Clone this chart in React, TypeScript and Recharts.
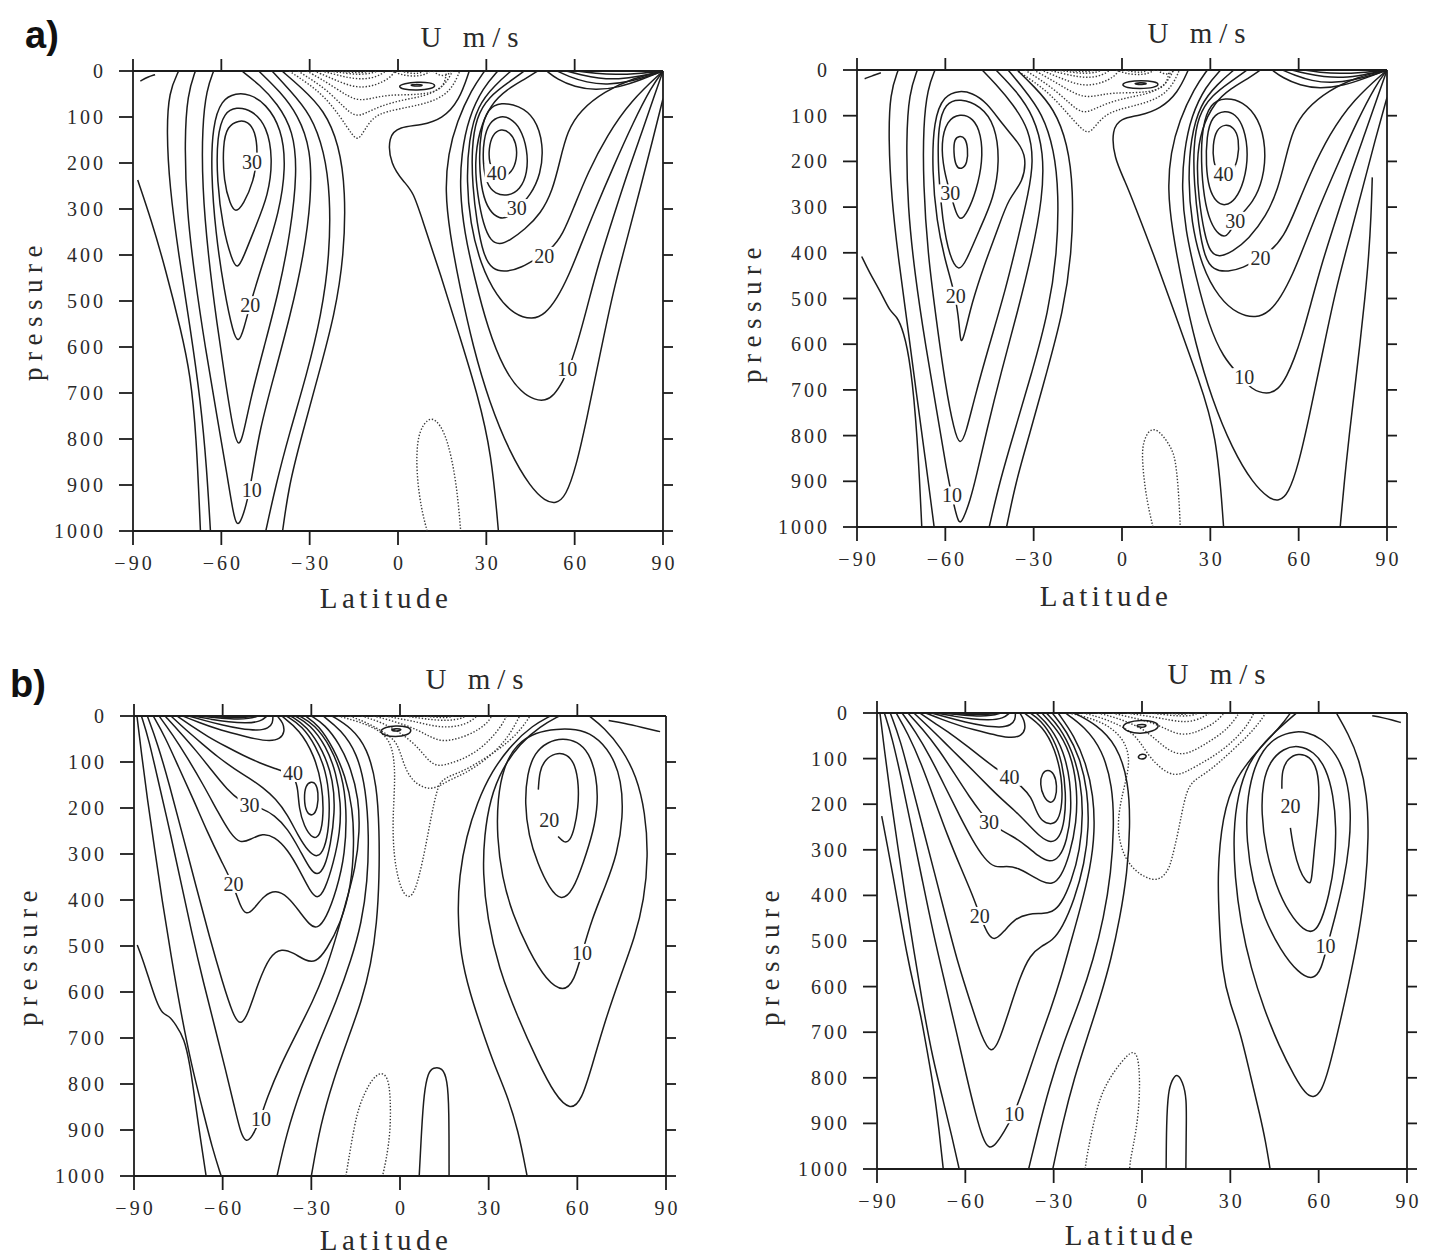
import React from "react";
import { ScatterChart, Scatter, XAxis, YAxis } from "recharts";

type Pt = [number, number];
type Label = [number, number, string];

// ---------- panel a) left ----------
const aLeftLines: Pt[][] = [
  [[-88.4, 237], [-83.8, 324], [-79.1, 427], [-73.6, 566], [-70.5, 661], [-68.5, 790], [-67.1, 1000]],
  [[-87.5, 22], [-85, 13], [-82.5, 8]],
  [[-74.5, 0], [-77.8, 45], [-78.6, 130], [-77.6, 250], [-74.5, 400], [-70.5, 560], [-67, 720], [-65, 860], [-63.7, 1000]],
  [[-68.8, 0], [-71.5, 50], [-72.5, 150], [-71.8, 300], [-69, 450], [-65.5, 600], [-61.5, 750], [-58, 880], [-56, 960], [-54.7, 991], [-53, 975], [-51, 930], [-49.5, 880], [-47, 780], [-42, 660], [-36.5, 530], [-32, 400], [-29.5, 280], [-29.5, 170], [-34, 95], [-40, 45], [-47.3, 0]],
  [[-62.6, 0], [-65, 40], [-66.5, 120], [-66.5, 250], [-64.5, 400], [-61.5, 550], [-58.5, 680], [-56, 780], [-54.2, 820], [-52.5, 790], [-50, 710], [-45.5, 600], [-40.5, 480], [-36.5, 350], [-34.2, 220], [-35.5, 130], [-41, 70], [-47, 30], [-53, 0]],
  [[-42.8, 0], [-37, 40], [-29.5, 95], [-25, 175], [-23, 270], [-23.2, 400], [-26, 530], [-31, 660], [-37, 790], [-41.5, 900], [-44.9, 1000]],
  [[-39.4, 0], [-33, 35], [-25, 85], [-20, 160], [-17.8, 260], [-18.3, 400], [-21.5, 530], [-27, 660], [-33, 800], [-37, 900], [-39.2, 1000]],
  [[24.2, 0], [20.8, 65], [15, 105], [8, 118], [0.5, 121], [-3.4, 142], [-2.6, 203], [2.1, 242], [5.2, 263], [8.3, 324], [14.6, 445], [20.8, 574], [27.1, 704], [31.8, 833], [34.1, 1000]],
  [[29.4, 0], [25, 40], [20, 110], [17, 180], [16, 260], [17.5, 350], [21, 470], [25.5, 600], [31, 720], [38, 830], [45, 905], [50, 935], [53.6, 941], [57, 925], [60.5, 860], [64, 760], [68.5, 620], [73, 480], [78, 360], [82.5, 250], [86.5, 150], [90, 60]],
  [[33.9, 0], [29, 35], [24, 100], [21.5, 180], [21, 260], [22.5, 350], [26, 450], [30.5, 560], [36, 650], [42, 700], [46.5, 715], [50, 717], [53, 705], [56, 675], [58.5, 640], [61, 590], [64, 520], [68, 420], [73, 320], [78, 220], [83, 130], [87, 55], [90, 0]],
  [[38.4, 0], [33, 30], [27, 75], [24, 150], [23.3, 240], [24.5, 330], [28, 420], [33.5, 490], [39.5, 530], [45.8, 541], [50, 528], [54, 495], [58, 445], [62, 380], [67, 300], [73, 210], [80, 110], [86, 35], [90, 0]],
  [[42.9, 0], [37.5, 25], [31, 55], [26.5, 100], [25, 170], [25.3, 250], [26.8, 330], [29, 400], [32, 433], [37, 437], [42, 427], [47, 408], [52, 388], [56, 355], [59.5, 300], [64.5, 220], [71, 140], [79, 65], [90, 0]],
  [[47.4, 0], [43, 18], [37, 40], [31.5, 72], [27.5, 130], [26, 200], [27, 270], [29, 335], [31.5, 370], [34.5, 378], [38, 368], [43, 345], [48.5, 310], [52.5, 260], [55, 195], [57.5, 130], [62, 85], [70, 45], [80, 15], [90, 0]],
  [[50.5, 0], [54, 18], [60, 35], [67, 42], [75, 36], [83, 18], [90, 0]],
  [[54, 0], [58, 12], [64, 25], [71, 30], [79, 23], [86, 9], [90, 0]],
  [[57, 0], [62, 8], [68, 16], [75, 18], [82, 12], [90, 0]],
  [[61, 0], [67, 5], [74, 8], [81, 6], [90, 0]],
];
const aLeftLoops: Pt[][] = [
  [[-55, 48], [-60, 62], [-63, 120], [-63.5, 220], [-62, 350], [-59, 480], [-56, 570], [-54.2, 592], [-52.5, 565], [-49.5, 490], [-45, 400], [-40.5, 310], [-38, 210], [-39.5, 125], [-45, 70], [-50.5, 50]],
  [[-55, 78], [-59, 90], [-61.5, 140], [-61.5, 240], [-59.5, 340], [-56.5, 410], [-54.5, 432], [-52.5, 405], [-48.5, 340], [-44, 270], [-42.5, 190], [-44.5, 120], [-49.5, 85]],
  [[-54, 107], [-58, 120], [-59.5, 160], [-59.2, 241], [-57, 290], [-55.2, 309], [-52.5, 290], [-49, 240], [-47.5, 180], [-48.5, 130], [-51, 110]],
  [[35, 68], [30.5, 80], [28, 130], [27.5, 200], [28.5, 265], [31, 305], [34.5, 322], [37.5, 318], [40.5, 300], [45, 270], [48.5, 225], [49.5, 160], [46.5, 100], [41, 75]],
  [[35, 97], [31, 110], [29, 150], [28.8, 200], [30, 245], [33, 268], [37.5, 272], [41.5, 258], [44, 222], [44, 170], [41.5, 122], [38, 102]],
  [[35, 125], [32, 138], [30.8, 170], [31, 200], [32.5, 222], [35.5, 232], [38.5, 222], [40.5, 192], [40.2, 155], [38, 133]],
  [[0, 33], [2, 27], [6.5, 24], [11, 25], [13, 31], [11.5, 39], [6.5, 42], [1.5, 40]],
  [[3.5, 31], [6, 28.5], [9, 30], [7, 34]],
];
const aLeftDotted: Pt[][] = [
  [[-37, 0], [-31, 25], [-25, 55], [-19.5, 100], [-15.5, 140], [-13.5, 151], [-11.5, 130], [-8.5, 100], [-4, 88], [4, 78], [11, 68], [16, 52], [19, 30], [21, 0]],
  [[-34, 0], [-29, 20], [-23.5, 45], [-18.5, 78], [-14.5, 100], [-11, 92], [-6, 76], [2, 62], [9, 55], [14, 40], [17, 20], [18.5, 0]],
  [[-31, 0], [-26.5, 16], [-21.5, 36], [-17, 55], [-13, 65], [-8, 58], [-3, 52], [3, 52], [9, 50], [14, 42], [16, 25], [16.5, 0]],
  [[-28.5, 0], [-24, 12], [-19, 26], [-14, 36], [-9.5, 34], [-5, 24], [-2, 10], [-1, 0]],
  [[-26, 0], [-21, 8], [-16, 16], [-11, 18], [-7, 12], [-4, 0]],
  [[-23, 0], [-18, 5], [-13, 8], [-9, 5], [-7, 0]],
  [[-20, 0], [-16, 3], [-12, 4], [-10, 0]],
  [[-2, 0], [1, 8], [5, 12], [9, 9], [11, 0]],
  [[1, 0], [4, 5], [7, 6], [9, 0]],
  [[12, 0], [13.5, 8], [15.5, 11], [17.5, 6], [18, 0]],
  [[9.9, 1000], [7.8, 950], [6.2, 870], [6.5, 800], [8.5, 768], [11.4, 751], [14.5, 770], [17, 807], [19.3, 876], [20.5, 940], [21.3, 1000]],
];
const aLeftLabels: Label[] = [
  [-49.6, 197, "30"], [-50.2, 509, "20"], [-49.7, 911, "10"],
  [33.5, 222, "40"], [40.3, 298, "30"], [49.7, 402, "20"], [57.5, 648, "10"],
];

// ---------- panel a) right ----------
const aRightLines: Pt[][] = [
  [[-88.4, 408], [-85.8, 443], [-81.9, 486], [-78.8, 529], [-76.5, 538], [-74.2, 572], [-71.8, 641], [-69.5, 797], [-68, 1000]],
  [[-87.4, 19], [-84.5, 12], [-81.9, 6]],
  [[-76, 0], [-78.8, 50], [-79.3, 150], [-78.3, 280], [-75.8, 420], [-72.8, 560], [-70, 700], [-66.8, 850], [-63.8, 1000]],
  [[-69.5, 0], [-72.3, 50], [-73.3, 150], [-72.8, 300], [-70.3, 450], [-66.8, 600], [-62.8, 750], [-59.5, 880], [-57.5, 940], [-55.5, 996], [-54, 985], [-51.5, 940], [-49.5, 890], [-46, 790], [-41, 660], [-35.5, 530], [-30.5, 400], [-27, 280], [-26.5, 180], [-30, 100], [-36, 45], [-42.8, 0]],
  [[-63.5, 0], [-66, 40], [-67.5, 120], [-67.5, 250], [-66, 400], [-63, 550], [-60, 690], [-57, 790], [-55, 823], [-53, 795], [-50, 715], [-45, 600], [-39.5, 480], [-35, 360], [-31.8, 270], [-30, 200], [-31.5, 130], [-37, 75], [-43, 30], [-47.5, 0]],
  [[-38.7, 0], [-33.5, 40], [-27, 95], [-23, 175], [-21.5, 270], [-22, 400], [-25, 530], [-30.5, 660], [-36.5, 790], [-41.5, 900], [-45.1, 1000]],
  [[-35.6, 0], [-30, 35], [-23, 85], [-18.5, 160], [-16.5, 260], [-17, 400], [-20, 530], [-25.5, 660], [-31.5, 800], [-36, 900], [-39.2, 1000]],
  [[22.5, 0], [19, 50], [13, 85], [6, 100], [-0.4, 105], [-3.5, 131], [-2.7, 192], [1.1, 244], [4.3, 296], [10.5, 399], [18.2, 538], [26, 676], [32.2, 797], [34.5, 1000]],
  [[29, 0], [24.5, 40], [19.5, 110], [16.5, 180], [15.5, 260], [17, 350], [20.5, 470], [25, 600], [30.5, 720], [37.5, 830], [44.5, 905], [50, 938], [53.2, 944], [56.5, 928], [60, 862], [63.5, 762], [68, 622], [72.5, 482], [77.5, 362], [82, 252], [86, 152], [90, 60]],
  [[33.5, 0], [28.5, 35], [23.5, 100], [21, 180], [20.3, 260], [21.5, 350], [25, 450], [29.5, 560], [34.5, 630], [39.5, 665], [44, 700], [49.3, 710], [53, 700], [56, 670], [58.5, 632], [61, 585], [64, 515], [68, 420], [73, 320], [78, 220], [83, 130], [87, 55], [90, 0]],
  [[38, 0], [32.5, 30], [26.5, 75], [23.3, 150], [22.5, 240], [23.5, 330], [27, 430], [33, 500], [39.5, 535], [45.5, 543], [50, 530], [54, 497], [58, 447], [62, 383], [67, 300], [73, 210], [80, 110], [86, 35], [90, 0]],
  [[42.5, 0], [37, 25], [30.5, 55], [25.8, 100], [24.2, 170], [24.5, 250], [26, 340], [28, 410], [31, 438], [36, 442], [41.5, 432], [45, 418], [50, 400], [55, 365], [59, 305], [64, 225], [70.5, 140], [78.5, 65], [90, 0]],
  [[47, 0], [43, 18], [37, 40], [31.5, 70], [26.8, 130], [25.3, 200], [26, 280], [28, 360], [30, 400], [33, 410], [37.5, 398], [43, 370], [49, 320], [53, 260], [55.5, 195], [58, 130], [62.5, 85], [70, 45], [80, 15], [90, 0]],
  [[74.1, 1000], [75.5, 900], [77.2, 797], [79, 700], [80.8, 600], [82.5, 500], [83.8, 408], [84.6, 320], [85, 235]],
  [[51, 0], [54.5, 17], [60.5, 34], [67, 41], [75, 35], [83, 17], [90, 0]],
  [[54.5, 0], [58.5, 11], [64.5, 24], [71, 29], [79, 22], [86, 9], [90, 0]],
  [[57.5, 0], [62.5, 8], [68.5, 15], [75, 17], [82, 11], [90, 0]],
  [[61.5, 0], [67, 5], [74, 8], [81, 6], [90, 0]],
];
const aRightLoops: Pt[][] = [
  [[-55, 45], [-60.5, 55], [-64, 110], [-64.5, 220], [-63, 330], [-60, 420], [-56.5, 494], [-55.2, 560], [-54.8, 602], [-53.5, 580], [-51, 510], [-47, 430], [-42, 345], [-38.5, 280], [-33.5, 245], [-32.5, 190], [-35, 160], [-40.5, 120], [-46, 70], [-51, 50]],
  [[-55, 62], [-60, 72], [-62.5, 120], [-62.5, 220], [-61, 330], [-58.5, 410], [-55.5, 442], [-53, 420], [-48.5, 350], [-43.5, 280], [-41.5, 200], [-43, 120], [-48, 78]],
  [[-55, 95], [-59.5, 110], [-61.5, 160], [-60.5, 220], [-58.3, 270], [-56.3, 315], [-54.8, 330], [-52.5, 312], [-49.5, 265], [-47.3, 200], [-47.8, 140], [-50.5, 105]],
  [[-55, 144], [-57, 150], [-57.2, 180], [-56.5, 212], [-54.5, 218], [-52.5, 205], [-52.3, 170], [-53.3, 148]],
  [[35, 60], [30, 72], [27.2, 125], [26.8, 200], [27.8, 280], [30, 335], [33, 362], [35.5, 366], [37.5, 345], [40, 318], [44.5, 290], [48, 240], [49, 170], [46.5, 105], [41, 68]],
  [[35, 88], [30.5, 100], [28.7, 145], [28.5, 210], [29.5, 260], [32, 290], [35, 298], [38.5, 285], [41.5, 245], [43, 185], [41.5, 125], [38.5, 96]],
  [[35, 118], [32, 130], [30.8, 165], [31, 200], [32.5, 225], [35, 232], [37.5, 225], [39.5, 195], [39.8, 150], [38, 125]],
  [[-0.4, 32], [2, 25], [6.5, 23], [11, 25], [12.8, 31], [11, 39], [6, 41], [1.5, 39]],
  [[3.5, 30], [6, 27.5], [9, 29], [7, 33]],
];
const aRightDotted: Pt[][] = [
  [[-36, 0], [-30, 25], [-24, 55], [-18.5, 95], [-14, 128], [-11.3, 140], [-9, 122], [-6, 100], [-2, 88], [3, 80], [9, 70], [14, 55], [17.5, 30], [19.5, 0]],
  [[-33, 0], [-28, 20], [-22.5, 45], [-17.5, 75], [-13.5, 95], [-10, 88], [-5, 72], [2, 60], [9, 52], [13.5, 38], [16, 20], [17.5, 0]],
  [[-30, 0], [-25.5, 16], [-20.5, 35], [-16, 52], [-12, 60], [-7.5, 55], [-3, 50], [3, 50], [9, 48], [13.5, 40], [15.5, 24], [16, 0]],
  [[-27.5, 0], [-23, 12], [-18, 25], [-13.5, 34], [-9, 32], [-4.5, 22], [-2, 10], [-1, 0]],
  [[-25, 0], [-20, 8], [-15, 15], [-10.5, 17], [-6.5, 11], [-4, 0]],
  [[-22, 0], [-17, 5], [-12.5, 8], [-8.5, 5], [-7, 0]],
  [[-19, 0], [-15, 3], [-11.5, 4], [-9.5, 0]],
  [[-2, 0], [1, 7], [5, 11], [9, 8], [11, 0]],
  [[1, 0], [4, 4.5], [7, 5.5], [9, 0]],
  [[12, 0], [13.5, 7], [15.5, 10], [17, 6], [17.5, 0]],
  [[10.5, 1000], [8, 930], [6.6, 840], [7.5, 810], [9, 790], [11.2, 784], [14, 800], [16.5, 825], [18.2, 849], [19.3, 930], [19.8, 1000]],
];
const aRightLabels: Label[] = [
  [-58.3, 270, "30"], [-56.5, 494, "20"], [-57.7, 931, "10"],
  [34.5, 228, "40"], [38.5, 330, "30"], [47, 412, "20"], [41.5, 672, "10"],
];

// ---------- panel b) left ----------
const bLeftLines: Pt[][] = [
  [[-88.9, 498], [-87, 530], [-85, 570], [-82.5, 620], [-80.4, 648], [-78, 652], [-76, 670], [-73, 700], [-71, 760], [-69.5, 830], [-67.5, 920], [-65.6, 1000]],
  [[-89, 0], [-87.5, 80], [-85.5, 180], [-83, 290], [-80.5, 400], [-77.5, 520], [-74, 650], [-70.5, 760], [-67, 850], [-63.5, 940], [-60.5, 1000]],
  [[-87.5, 0], [-85, 50], [-81.5, 150], [-77.5, 260], [-74, 365], [-70.5, 470], [-66.5, 580], [-62.5, 680], [-59, 770], [-56, 850], [-53.8, 910], [-52, 927], [-50, 915], [-47.5, 880], [-45, 830], [-40.5, 760], [-35, 690], [-29.5, 620], [-25.5, 560], [-22, 490], [-18.5, 410], [-15, 330], [-13.6, 250], [-14, 180], [-16.5, 115], [-20.5, 60], [-25.5, 18], [-30, 0]],
  [[-85.5, 0], [-82, 60], [-78, 150], [-73.5, 260], [-69, 370], [-64.5, 480], [-60, 580], [-56.5, 650], [-54, 674], [-51.5, 650], [-48, 580], [-44, 520], [-40, 505], [-36, 515], [-32, 532], [-28.5, 536], [-25, 510], [-20, 450], [-16.5, 370], [-15.5, 280], [-16, 200], [-18.5, 130], [-22.5, 70], [-27.5, 20], [-32, 0]],
  [[-83.5, 0], [-79.5, 45], [-75, 110], [-70, 180], [-65, 255], [-60.5, 315], [-56.5, 365], [-54, 415], [-52, 433], [-49.5, 420], [-46, 390], [-42, 378], [-38, 392], [-34, 425], [-30.5, 455], [-28, 463], [-25, 440], [-21.5, 380], [-18.5, 300], [-18, 200], [-19.5, 130], [-23.5, 65], [-29, 18], [-34, 0]],
  [[-81.5, 0], [-77, 40], [-72, 90], [-66.5, 150], [-61.5, 210], [-57.5, 255], [-54, 278], [-50.5, 268], [-46.5, 255], [-42.5, 262], [-38, 290], [-34, 335], [-30.5, 380], [-28, 399], [-25.5, 380], [-22.5, 320], [-20.2, 250], [-20, 190], [-21.5, 125], [-25, 65], [-30.5, 18], [-35.5, 0]],
  [[-79.5, 0], [-74.5, 35], [-69, 75], [-63.5, 120], [-58.5, 160], [-54, 185], [-50.9, 193], [-47, 200], [-42.5, 215], [-38, 245], [-34, 290], [-30.5, 333], [-28, 348], [-25.5, 330], [-23.5, 280], [-22, 210], [-22.5, 140], [-26, 75], [-31.5, 22], [-37, 0]],
  [[-77.5, 0], [-72.5, 30], [-67, 60], [-61.5, 90], [-56, 115], [-51, 135], [-46.5, 155], [-42, 180], [-38, 215], [-34.5, 260], [-31, 295], [-28, 309], [-25.5, 290], [-24, 240], [-23.8, 180], [-25, 120], [-28.5, 65], [-33, 22], [-38.5, 0]],
  [[-75.5, 0], [-70.5, 22], [-65, 45], [-59, 66], [-53, 86], [-47.5, 102], [-42, 115], [-38.5, 122], [-35.5, 135], [-34.5, 160], [-34.2, 200], [-32.5, 240], [-29.5, 268], [-27, 262], [-25.8, 215], [-26.3, 150], [-29, 85], [-34, 30], [-40, 0]],
  [[-73.5, 0], [-68, 14], [-62, 28], [-55, 40], [-49, 50], [-44, 55], [-40.5, 50], [-39, 35], [-39.5, 15], [-41.5, 0]],
  [[-71.5, 0], [-66, 10], [-60, 20], [-54, 28], [-48, 32], [-44.5, 27], [-43, 15], [-43, 0]],
  [[-70, 0], [-64, 7], [-58, 13], [-52, 16], [-47, 12], [-45, 0]],
  [[-68, 0], [-62, 4], [-56, 7], [-51, 6], [-48, 0]],
  [[-66.5, 0], [-61, 2.5], [-55, 4], [-51, 2.5], [-49.5, 0]],
  [[-26, 0], [-20, 30], [-14.5, 80], [-11.5, 160], [-10.5, 260], [-11, 360], [-13, 450], [-16.5, 530], [-21.5, 620], [-27.5, 710], [-33.5, 810], [-38.5, 910], [-41.6, 1000]],
  [[-23, 0], [-16.5, 25], [-11, 70], [-7.8, 150], [-7, 250], [-7, 350], [-7.8, 450], [-9.8, 540], [-13, 620], [-17.5, 700], [-22.5, 790], [-27, 890], [-30, 1000]],
  [[50.8, 0], [45, 20], [38, 60], [31, 120], [26, 190], [22.5, 260], [20, 348], [19.5, 430], [20.5, 519], [23.5, 600], [28.2, 691], [32, 760], [36, 820], [40, 900], [43, 1000]],
  [[53.9, 0], [47.5, 22], [40.5, 60], [34.5, 115], [30.5, 180], [28.5, 260], [28, 340], [29.5, 440], [33.5, 550], [39.5, 650], [46.5, 750], [52.5, 825], [57.7, 858], [61.5, 835], [65, 760], [69.5, 660], [74.8, 562], [79.5, 480], [82.6, 400], [84, 305], [83, 210], [80, 130], [75, 70], [69, 25], [64, 0]],
  [[53.5, 262], [55.5, 276], [57.5, 272], [59, 245], [60.3, 200], [60.5, 150], [59.3, 105], [56.5, 82], [52.5, 80], [49, 95], [47.2, 120], [46.8, 160]],
  [[70.6, 10], [76, 16], [82, 25], [88, 34]],
  [[6.5, 1000], [7.3, 900], [8.1, 820], [9.5, 775], [11.2, 764], [14.3, 764], [16, 790], [16.6, 850], [16.6, 1000]],
];
const bLeftLoops: Pt[][] = [
  [[-30, 142], [-32, 150], [-32.5, 180], [-31.8, 210], [-29.5, 219], [-27.8, 200], [-27.6, 165], [-28.5, 146]],
  [[-7, 33], [-5, 24], [-1.5, 21], [2.5, 23], [4.2, 31], [2.5, 42], [-1.5, 46], [-5.5, 42]],
  [[-3.5, 30], [-1.5, 27], [1, 29], [-1, 34]],
  [[55, 48], [50, 56], [45.5, 80], [43, 125], [42.2, 190], [43.5, 260], [46.5, 320], [50.5, 375], [54.6, 403], [58.5, 380], [62, 320], [65.5, 250], [67, 190], [66.5, 130], [64, 80], [60, 55]],
  [[53, 28], [46, 35], [39.5, 60], [35, 110], [33, 180], [32.8, 262], [34.5, 350], [38, 430], [43.5, 510], [49.5, 575], [55.4, 601], [59, 575], [61.6, 515], [65, 440], [69.5, 370], [73.5, 300], [75.5, 220], [75, 140], [71.5, 80], [65.5, 40], [59.5, 28]],
];
const bLeftDotted: Pt[][] = [
  [[-21, 0], [-14, 12], [-7, 30], [-2.5, 60], [-1.5, 130], [-2.5, 220], [-2.2, 300], [-0.5, 360], [1.5, 390], [3.4, 395], [5, 380], [6.5, 348], [8.5, 290], [10.5, 220], [12.5, 160], [14, 140], [17, 130], [22, 118], [28, 95], [34, 70], [39.5, 40], [43, 10], [44, 0]],
  [[-17, 0], [-11, 15], [-5.5, 35], [-1, 55], [1, 100], [3, 130], [6, 150], [10, 160], [13.5, 152], [17, 138], [22, 125], [28, 100], [33, 72], [37, 42], [40.5, 0]],
  [[-13, 0], [-7, 12], [-2, 28], [3, 50], [7, 75], [10, 100], [13, 110], [17, 103], [22, 92], [27, 72], [31, 48], [34.5, 20], [36, 0]],
  [[-9, 0], [-4, 8], [1, 18], [6, 30], [10, 45], [14, 55], [18, 52], [23, 42], [27, 28], [30, 12], [31, 0]],
  [[-5, 0], [0, 6], [5, 12], [10, 20], [15, 25], [20, 22], [24, 12], [26, 0]],
  [[2, 0], [7, 5], [12, 9], [17, 10], [21, 5], [22, 0]],
  [[8, 0], [12, 3], [16, 4], [18, 0]],
  [[-18.3, 1000], [-16.5, 930], [-14.5, 860], [-12, 820], [-9.5, 790], [-6.5, 773], [-4, 785], [-3.2, 830], [-3.2, 900], [-4.5, 960], [-5.9, 1000]],
];
const bLeftLabels: Label[] = [
  [-36.2, 124, "40"], [-50.9, 193, "30"], [-56.3, 365, "20"], [-47, 876, "10"],
  [50.5, 225, "20"], [61.6, 515, "10"],
];

// ---------- panel b) right ----------
const bRightLines: Pt[][] = [
  [[-88.4, 226], [-86.5, 290], [-84.6, 355], [-82.3, 440], [-79.9, 527], [-77.5, 600], [-75.3, 656], [-73, 740], [-70.6, 828], [-69, 910], [-67.5, 1000]],
  [[-89, 0], [-87.5, 80], [-85.5, 180], [-83, 290], [-80.5, 400], [-77.5, 520], [-74.5, 640], [-71, 760], [-67.5, 850], [-64.5, 930], [-62.1, 1000]],
  [[-87.5, 0], [-85, 50], [-81.5, 150], [-78, 260], [-74.5, 370], [-71, 480], [-67, 590], [-63, 700], [-59.5, 800], [-56.5, 880], [-54, 935], [-52, 957], [-49.5, 945], [-47, 920], [-43.4, 880], [-39.5, 810], [-35.5, 730], [-31, 650], [-27.5, 580], [-24.5, 510], [-21, 430], [-17.5, 340], [-16, 260], [-16.5, 180], [-19, 110], [-23, 50], [-28.5, 0]],
  [[-85.5, 0], [-82, 60], [-78.5, 150], [-74.5, 250], [-70.5, 350], [-66.5, 450], [-62.5, 550], [-58, 640], [-54.5, 710], [-51.2, 750], [-48.5, 720], [-45, 650], [-41.5, 580], [-38, 530], [-34, 510], [-30.5, 500], [-27, 470], [-23, 410], [-19.5, 330], [-18, 250], [-18.5, 170], [-21, 100], [-25.5, 40], [-30.5, 0]],
  [[-83.5, 0], [-79.5, 45], [-75, 110], [-70.5, 190], [-66, 270], [-61.5, 340], [-57.5, 400], [-55, 445], [-52.5, 485], [-50, 500], [-47, 480], [-43, 450], [-38.5, 440], [-34, 440], [-30.5, 437], [-27.5, 420], [-24, 370], [-21, 300], [-20, 220], [-20.8, 150], [-23.5, 85], [-28, 30], [-32.5, 0]],
  [[-81.5, 0], [-77, 40], [-72, 95], [-67, 160], [-62, 225], [-57.5, 280], [-53.5, 320], [-50, 340], [-46, 335], [-42, 340], [-38, 355], [-34, 370], [-30.5, 377], [-27.5, 360], [-24.5, 310], [-22.2, 240], [-22, 170], [-23.5, 105], [-27.5, 45], [-34, 0]],
  [[-79.5, 0], [-74.5, 35], [-69, 80], [-63.5, 135], [-58.5, 185], [-54.5, 220], [-52, 239], [-48.5, 255], [-44, 270], [-39.5, 290], [-35, 315], [-31.5, 328], [-28, 318], [-25.5, 280], [-24, 220], [-24.3, 150], [-26.5, 85], [-31, 30], [-36, 0]],
  [[-77.5, 0], [-72.5, 30], [-67, 65], [-61.5, 100], [-56, 135], [-51.5, 165], [-47.5, 190], [-43, 215], [-38.5, 245], [-34.5, 272], [-31, 286], [-28, 275], [-26.2, 235], [-25.8, 175], [-27, 110], [-30, 55], [-34.5, 15], [-38, 0]],
  [[-75.5, 0], [-70.5, 22], [-65, 45], [-59.5, 72], [-54, 100], [-49, 125], [-45, 140], [-41, 160], [-37.5, 185], [-36, 215], [-34, 238], [-31, 245], [-28.5, 238], [-27, 200], [-27.2, 140], [-29.5, 80], [-33.5, 30], [-40, 0]],
  [[-73.5, 0], [-68, 14], [-62, 28], [-55, 40], [-49, 50], [-44, 55], [-41, 50], [-39.5, 35], [-40, 15], [-41.5, 0]],
  [[-71.5, 0], [-66, 10], [-60, 20], [-54, 28], [-48, 32], [-44.5, 27], [-43, 15], [-43, 0]],
  [[-70, 0], [-64, 7], [-58, 13], [-52, 16], [-47, 12], [-45, 0]],
  [[-68, 0], [-62, 4], [-56, 7], [-51, 6], [-48, 0]],
  [[-66.5, 0], [-61, 2.5], [-55, 4], [-51, 2.5], [-49.5, 0]],
  [[-26, 0], [-19.5, 30], [-13.5, 80], [-10, 160], [-9.5, 250], [-10.5, 350], [-13, 450], [-16.5, 540], [-21, 630], [-26.5, 720], [-31.5, 820], [-35.5, 920], [-38.5, 1000]],
  [[-23, 0], [-15.5, 25], [-8.5, 70], [-4.5, 150], [-4, 250], [-5, 350], [-7.5, 450], [-10.5, 540], [-14, 620], [-18.5, 710], [-23, 800], [-27, 900], [-30.3, 1000]],
  [[50.4, 0], [47.3, 28], [39.6, 80], [31.8, 140], [27.2, 226], [25.6, 355], [26.2, 450], [27.2, 570], [30, 640], [33.4, 699], [37, 800], [40, 880], [42, 940], [43.5, 1000]],
  [[52.5, 0], [48, 25], [42, 60], [36, 110], [32.5, 180], [31, 260], [31.5, 360], [33.5, 460], [37, 560], [41.5, 650], [46.5, 730], [52, 800], [55.5, 835], [58.2, 845], [61, 830], [63.5, 780], [66.5, 700], [70, 600], [73.5, 490], [76, 380], [77, 270], [76.5, 180], [73.7, 100], [70, 45], [66, 0]],
  [[50.4, 252], [51.5, 300], [53.5, 345], [55.5, 368], [57.4, 377], [57.8, 350], [58.5, 300], [59.5, 240], [60.3, 180], [59.7, 123], [57, 95], [53, 88], [49.5, 100], [47.5, 125], [47.5, 166]],
  [[78.2, 6], [81.5, 10], [85, 15], [87.9, 21]],
  [[8.2, 1000], [8.3, 900], [8.9, 829], [10.2, 805], [11.8, 789], [13.8, 808], [15.2, 843], [15, 920], [14.9, 1000]],
];
const bRightLoops: Pt[][] = [
  [[-32, 123], [-34, 132], [-34.7, 155], [-33.5, 185], [-31, 200], [-29.3, 188], [-28.8, 160], [-29.8, 132]],
  [[-7, 30], [-5, 20], [-0.5, 15], [4, 18], [6.2, 28], [4, 40], [-0.5, 46], [-5, 41]],
  [[-2.5, 28], [0, 24], [2, 27], [0, 33]],
  [[-1.5, 95], [0, 89], [1.8, 93], [1, 101], [-1, 101]],
  [[53, 70], [48, 78], [43.5, 105], [41, 150], [40.5, 220], [42, 300], [45.5, 380], [50, 440], [55, 478], [58.5, 482], [61, 455], [63.5, 400], [65.5, 330], [66, 250], [65, 180], [62.5, 120], [58.5, 85]],
  [[52, 40], [46, 50], [41, 80], [37.5, 130], [35.5, 200], [35.5, 280], [37.5, 370], [41.5, 450], [47, 520], [53, 570], [58.2, 587], [61, 560], [62.5, 520], [65.5, 450], [68.5, 370], [70.5, 290], [71, 210], [69.5, 140], [66, 90], [61, 55], [56, 42]],
];
const bRightDotted: Pt[][] = [
  [[-25, 0], [-18, 10], [-11, 28], [-6, 60], [-4, 100], [-5.5, 150], [-7.5, 200], [-8.5, 260], [-6, 320], [-1, 355], [5.4, 372], [9, 345], [10.1, 321], [12, 270], [13.5, 220], [15, 175], [17, 150], [21, 135], [26, 110], [31, 80], [36, 50], [40, 20], [42, 0]],
  [[-20, 0], [-14, 10], [-8, 25], [-3, 45], [0, 70], [3, 100], [7, 125], [11, 138], [14.7, 130], [18, 118], [23, 100], [28, 78], [32.5, 52], [36, 25], [38, 0]],
  [[-15, 0], [-9, 10], [-4, 22], [1, 38], [5, 60], [9, 82], [13, 92], [17, 85], [21, 70], [26, 50], [30, 28], [33, 0]],
  [[-10, 0], [-5, 8], [0, 15], [5, 25], [9, 38], [13, 48], [17, 45], [21, 35], [25, 20], [28, 0]],
  [[-5, 0], [0, 5], [5, 10], [10, 16], [14, 20], [18, 17], [21, 8], [23, 0]],
  [[3, 0], [8, 4], [13, 7], [17, 6], [19, 0]],
  [[9, 0], [12, 2.5], [15, 3], [16, 0]],
  [[-19.3, 1000], [-18.8, 974], [-16.5, 900], [-14.3, 843], [-11, 800], [-7, 765], [-2.9, 736], [-0.9, 760], [-0.7, 843], [-2, 920], [-4, 980], [-4.2, 1000]],
];
const bRightLabels: Label[] = [
  [-45, 140, "40"], [-52, 239, "30"], [-55.1, 445, "20"], [-43.4, 880, "10"],
  [50.4, 205, "20"], [62.3, 510, "10"],
];

const latTicks = [-90, -60, -30, 0, 30, 60, 90];
const topTicks = [-90, -60, -30, 0, 30, 60];
const pTicks = [0, 100, 200, 300, 400, 500, 600, 700, 800, 900, 1000];
const rightTicks = [100, 200, 300, 400, 500, 600, 700, 800, 900, 1000];

const SERIF = '"Liberation Serif", "Times New Roman", serif';
const INK = "#1c1c1c";
const TEXT = "#2a2a2a";
const axisStyle = { stroke: INK, strokeWidth: 1.8 };

const toPts = (c: Pt[]) => c.map(([x, y]) => ({ x, y }));
const noDot = () => <g />;
const noTick = () => <g />;

function LatTick(props: any) {
  const { x, y, payload } = props;
  const v = payload.value as number;
  return (
    <text x={x + 1.5} y={y} dy="0.71em" textAnchor="middle" fontFamily={SERIF} fontSize={20} letterSpacing={3} fill={TEXT}>
      {v < 0 ? "\u2212" + Math.abs(v) : String(v)}
    </text>
  );
}

function PTick(props: any) {
  const { x, y, payload } = props;
  return (
    <text x={x + 3} y={y} dy="0.35em" textAnchor="end" fontFamily={SERIF} fontSize={20} letterSpacing={3} fill={TEXT}>
      {payload.value}
    </text>
  );
}

function LabelMark(props: any) {
  const { cx, cy, payload } = props;
  return (
    <g>
      <rect x={cx - 12} y={cy - 9} width={24} height={18} fill="#fff" />
      <text x={cx} y={cy} dy="0.35em" textAnchor="middle" fontFamily={SERIF} fontSize={20} fill={TEXT}>
        {payload.t}
      </text>
    </g>
  );
}

type PanelProps = {
  left: number;
  top: number;
  w: number;
  h: number;
  lines: Pt[][];
  loops: Pt[][];
  dotted: Pt[][];
  labels: Label[];
};

function Panel({ left, top, w, h, lines, loops, dotted, labels }: PanelProps) {
  const ML = 100;
  const MT = 20;
  const MR = 30;
  const MB = 50;
  const common = { xAxisId: "b", yAxisId: "l", isAnimationActive: false, shape: noDot, fill: "none" };
  return (
    <div style={{ position: "absolute", left: left - ML, top: top - MT }}>
      <ScatterChart width={w + ML + MR} height={h + MT + MB} margin={{ top: 0, right: 0, bottom: 0, left: 0 }}>
        <XAxis xAxisId="b" type="number" dataKey="x" domain={[-90, 90]} ticks={latTicks} interval={0} allowDataOverflow
          orientation="bottom" height={MB} tickSize={14} tickMargin={11} tick={<LatTick />} axisLine={axisStyle} tickLine={axisStyle} />
        <XAxis xAxisId="t" type="number" dataKey="x" domain={[-90, 90]} ticks={topTicks} interval={0} allowDataOverflow
          orientation="top" height={MT} tickSize={12} tick={noTick} axisLine={axisStyle} tickLine={axisStyle} />
        <YAxis yAxisId="l" type="number" dataKey="y" domain={[0, 1000]} reversed ticks={pTicks} interval={0} allowDataOverflow
          width={ML} tickSize={14} tickMargin={16} tick={<PTick />} axisLine={axisStyle} tickLine={axisStyle} />
        <YAxis yAxisId="r" orientation="right" type="number" dataKey="y" domain={[0, 1000]} reversed ticks={rightTicks} interval={0} allowDataOverflow
          width={MR} tickSize={10} tick={noTick} axisLine={axisStyle} tickLine={axisStyle} />
        {dotted.map((c, i) => (
          <Scatter key={"d" + i} {...common} data={toPts(c)} lineJointType="basis"
            line={{ stroke: "#3a3a3a", strokeWidth: 1.4, strokeDasharray: "1.4 1.8", fill: "none" }} />
        ))}
        {lines.map((c, i) => (
          <Scatter key={"s" + i} {...common} data={toPts(c)} lineJointType="basis"
            line={{ stroke: INK, strokeWidth: 1.5, fill: "none" }} />
        ))}
        {loops.map((c, i) => (
          <Scatter key={"o" + i} {...common} data={toPts(c)} lineJointType="basisClosed"
            line={{ stroke: INK, strokeWidth: 1.5, fill: "none" }} />
        ))}
        <Scatter xAxisId="b" yAxisId="l" isAnimationActive={false}
          data={labels.map(([x, y, t]) => ({ x, y, t }))} shape={LabelMark} />
      </ScatterChart>
    </div>
  );
}

function Caption({ x, y, style, children }: { x: number; y: number; style: React.CSSProperties; children: React.ReactNode }) {
  return (
    <div style={{ position: "absolute", left: x, top: y, transform: "translate(-50%, -50%)", whiteSpace: "pre", color: TEXT, lineHeight: 1, ...style }}>
      {children}
    </div>
  );
}

const titleStyle: React.CSSProperties = { fontFamily: SERIF, fontSize: 29, letterSpacing: 7 };
const latStyle: React.CSSProperties = { fontFamily: SERIF, fontSize: 29, letterSpacing: 4.5 };
const presStyle: React.CSSProperties = { fontFamily: SERIF, fontSize: 27, letterSpacing: 6.5 };
const tagStyle: React.CSSProperties = { fontFamily: '"Liberation Sans", Arial, sans-serif', fontSize: 38, fontWeight: 700, color: "#111" };

function Pressure({ x, y }: { x: number; y: number }) {
  return (
    <div style={{ position: "absolute", left: x, top: y, transform: "translate(-50%, -50%) rotate(-90deg)", whiteSpace: "pre", color: TEXT, lineHeight: 1, ...presStyle }}>
      pressure
    </div>
  );
}

export default function App() {
  return (
    <div style={{ position: "absolute", left: 0, top: 0, width: 1437, height: 1257, background: "#fff", overflow: "hidden" }}>
      <Panel left={133} top={71} w={530} h={460} lines={aLeftLines} loops={aLeftLoops} dotted={aLeftDotted} labels={aLeftLabels} />
      <Panel left={857} top={70} w={530} h={457} lines={aRightLines} loops={aRightLoops} dotted={aRightDotted} labels={aRightLabels} />
      <Panel left={134} top={716} w={532} h={460} lines={bLeftLines} loops={bLeftLoops} dotted={bLeftDotted} labels={bLeftLabels} />
      <Panel left={877} top={713} w={530} h={456} lines={bRightLines} loops={bRightLoops} dotted={bRightDotted} labels={bRightLabels} />

      <Caption x={42} y={35} style={tagStyle}>a)</Caption>
      <Caption x={28} y={684} style={tagStyle}>b)</Caption>

      <Caption x={473} y={37} style={titleStyle}>U m/s</Caption>
      <Caption x={1200} y={33} style={titleStyle}>U m/s</Caption>
      <Caption x={478} y={679} style={titleStyle}>U m/s</Caption>
      <Caption x={1220} y={674} style={titleStyle}>U m/s</Caption>

      <Caption x={386} y={598} style={latStyle}>Latitude</Caption>
      <Caption x={1106} y={596} style={latStyle}>Latitude</Caption>
      <Caption x={386} y={1240} style={latStyle}>Latitude</Caption>
      <Caption x={1131} y={1235} style={latStyle}>Latitude</Caption>

      <Pressure x={33} y={310} />
      <Pressure x={752} y={312} />
      <Pressure x={28} y={955} />
      <Pressure x={770} y={955} />
    </div>
  );
}
